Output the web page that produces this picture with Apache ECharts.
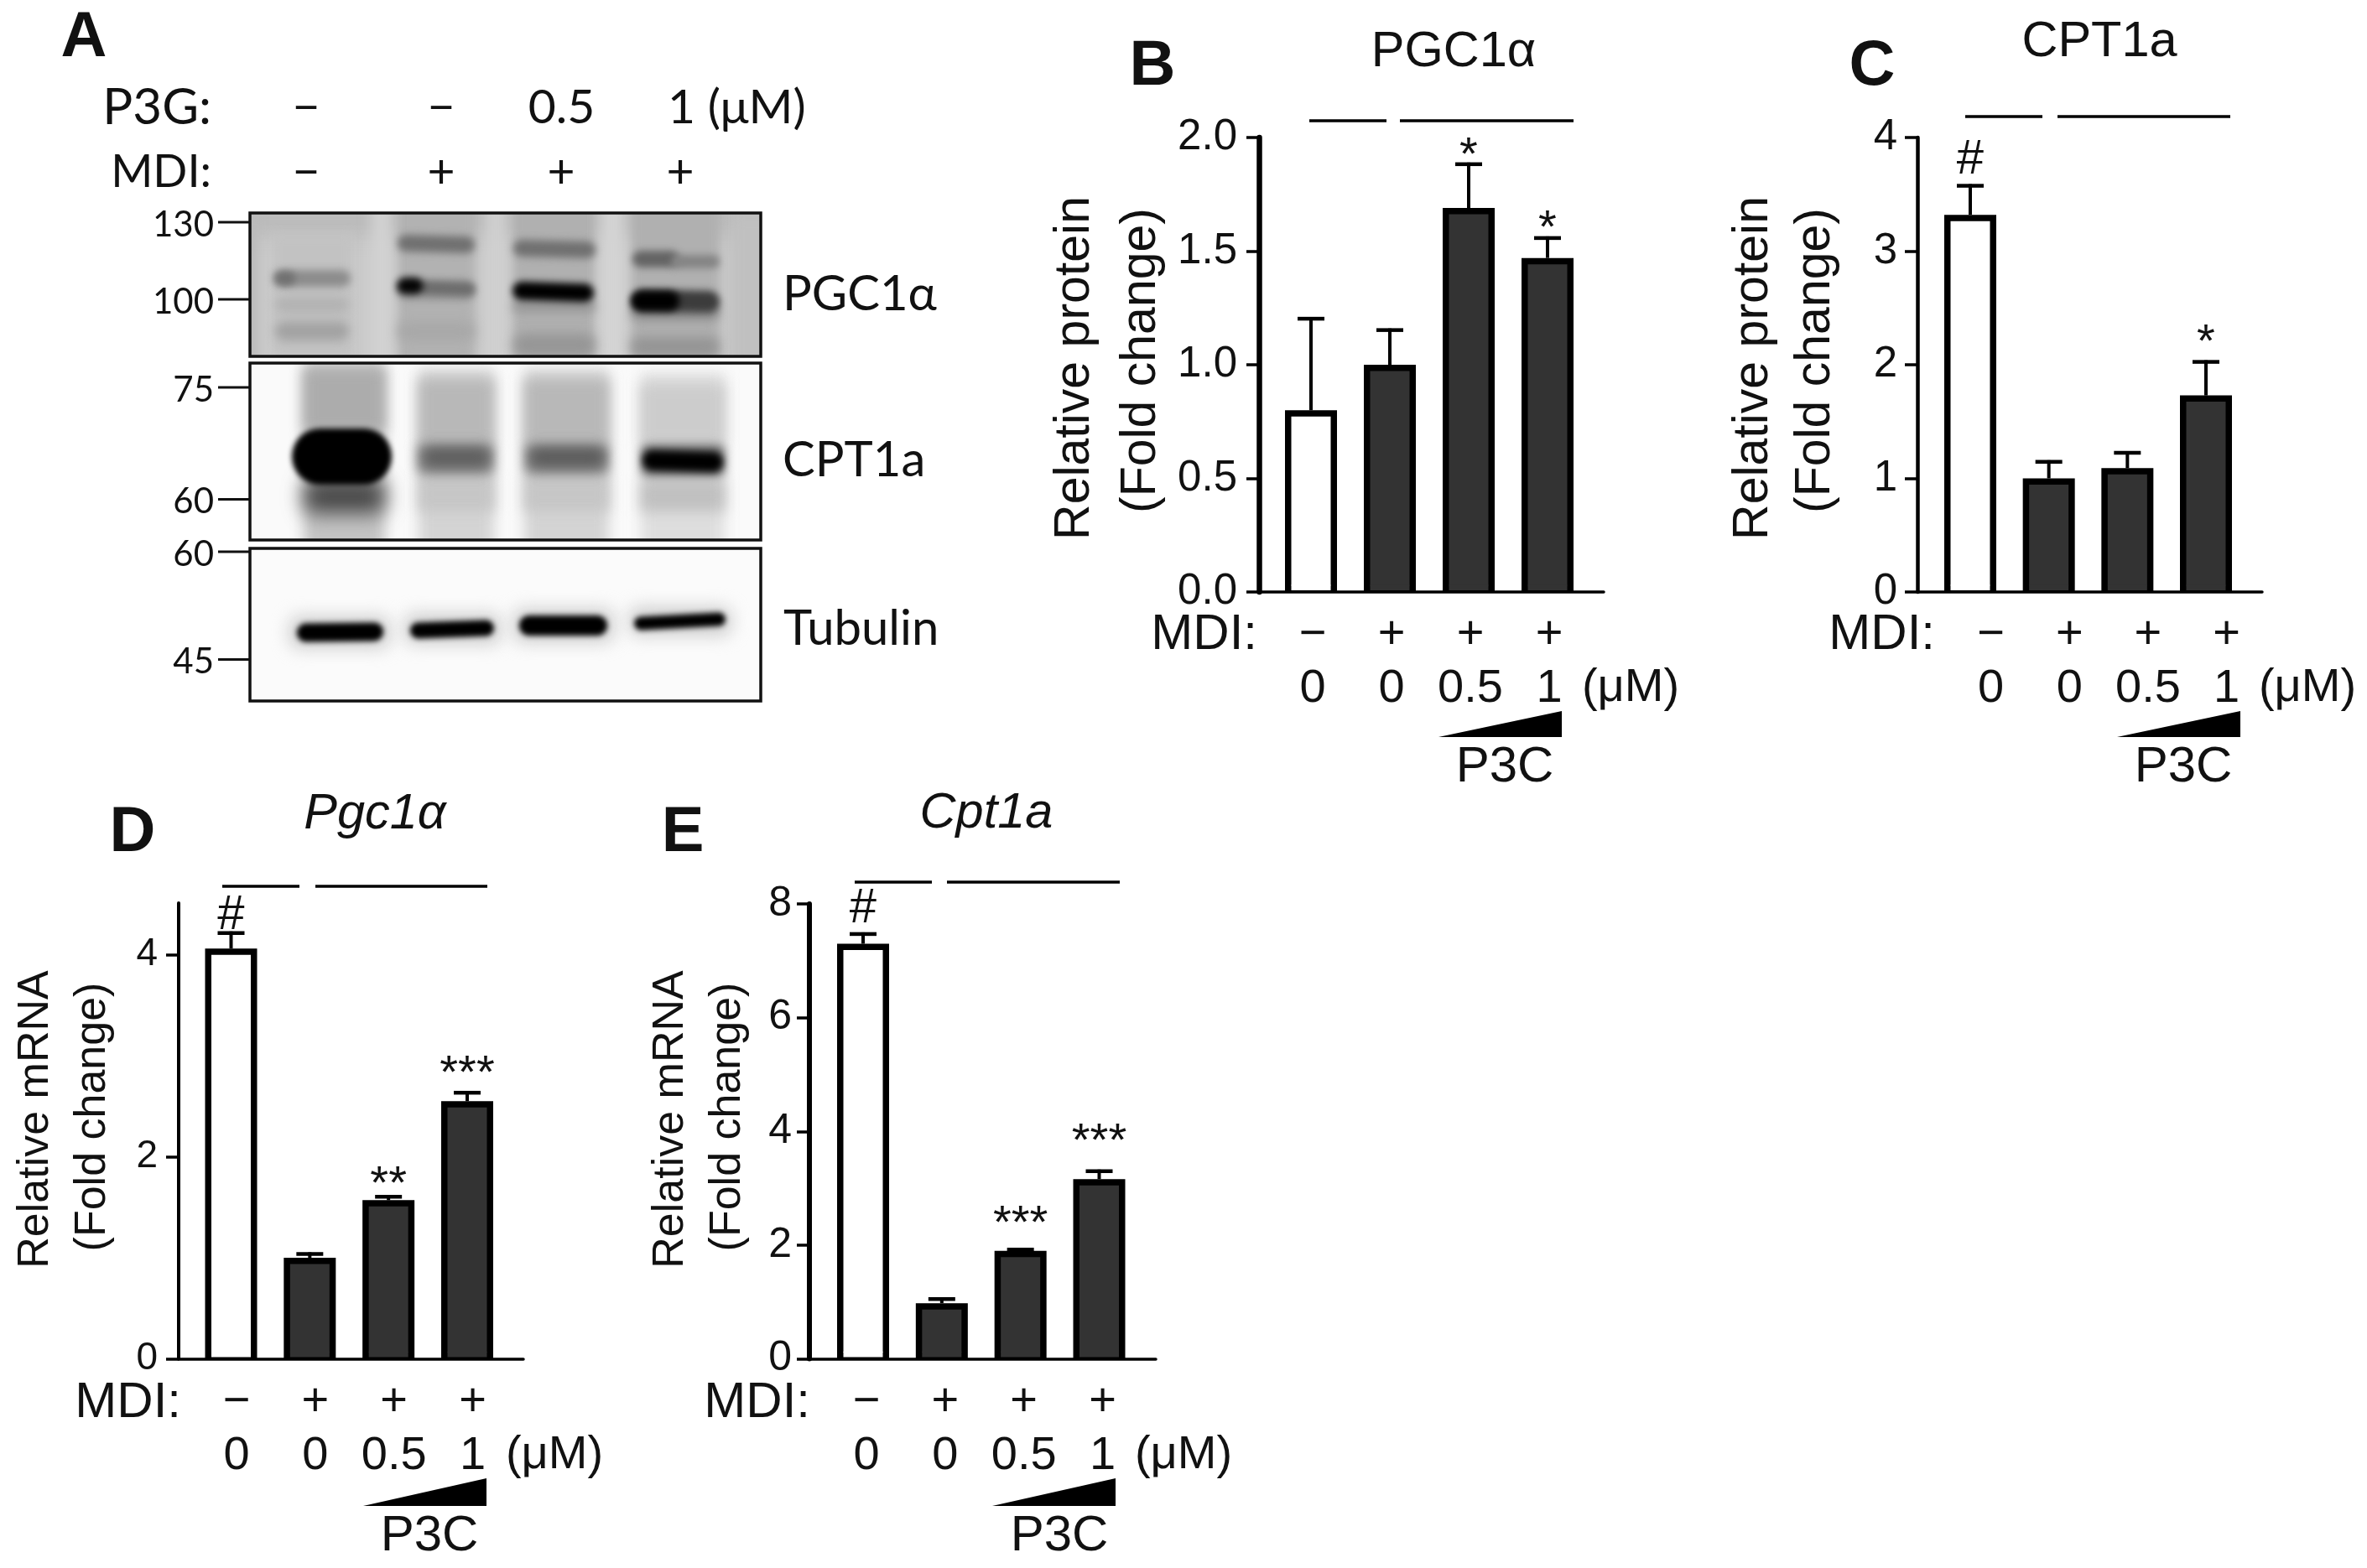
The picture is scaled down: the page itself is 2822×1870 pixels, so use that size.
<!DOCTYPE html>
<html><head><meta charset="utf-8">
<style>html,body{margin:0;padding:0;background:#fff}#c{width:2822px;height:1870px}</style>
<script src="https://cdn.jsdelivr.net/npm/echarts@6/dist/echarts.min.js"></script>
</head><body><div id="c"></div>
<script>
// ---------- data ----------
const mdiLabels = ['−', '+', '+', '+'];
const doseLabels = ['0', '0', '0.5', '1'];

const valuesB = [0.80, 1.00, 1.69, 1.47];
const errorsB = [0.41, 0.16, 0.20, 0.095];
const sigB = ['', '', '*', '*'];

const valuesC = [3.32, 1.00, 1.09, 1.73];
const errorsC = [0.27, 0.16, 0.15, 0.31];
const sigC = ['#', '', '', '*'];

const valuesD = [4.06, 1.00, 1.57, 2.55];
const errorsD = [0.17, 0.055, 0.05, 0.10];
const sigD = ['#', '', '**', '***'];

const valuesE = [7.30, 0.98, 1.90, 3.16];
const errorsE = [0.20, 0.10, 0.05, 0.17];
const sigE = ['#', '', '***', '***'];

const ticksB = [0, 0.5, 1.0, 1.5, 2.0];
const ticksC = [0, 1, 2, 3, 4];
const ticksD = [0, 2, 4];
const ticksE = [0, 2, 4, 6, 8];

// ---------- panel layout ----------
const FONT = '"Liberation Sans", Arial, sans-serif';
const panels = [
 {letter:'B', lx:1374, ly:77, title:'PGC1α', italic:false, tx:1733, ty:60,
  values:valuesB, errors:errorsB, sig:sigB, ticks:ticksB, max:2, dec:1,
  left:1501, right:1912, top:164, bottom:706, c1:1563, c4:1845, labelShift:2,
  axisW:6.5, tickSize:51, tickMargin:11, sigGap:[0,0,19,20],
  names:['Relative protein','(Fold change)'], nameX:[1279,1358], nameY:[439,430], nameFont:[59,59],
  mdiR:1499, rowY:754, doseY:818, unitX:1944, triX:[1715,1862], triY:[848,879], p3cX:1794, p3cY:912,
  bracketY:144, brackets:[[1561,1653],[1669,1876]]},
 {letter:'C', lx:2232, ly:77, title:'CPT1a', italic:false, tx:2503, ty:48,
  values:valuesC, errors:errorsC, sig:sigC, ticks:ticksC, max:4, dec:0,
  left:2286, right:2697, top:164, bottom:706, c1:2349, c4:2630, labelShift:24.6,
  axisW:4.5, tickSize:51, tickMargin:9, sigGap:[29,0,0,32],
  names:['Relative protein','(Fold change)'], nameX:[2088,2162], nameY:[439,430], nameFont:[59,59],
  mdiR:2307, rowY:754, doseY:818, unitX:2751, triX:[2524,2671], triY:[848,879], p3cX:2603, p3cY:912,
  bracketY:139, brackets:[[2343,2435],[2453,2659]]},
 {letter:'D', lx:158, ly:991, title:'Pgc1α', italic:true, tx:447, ty:968,
  values:valuesD, errors:errorsD, sig:sigD, ticks:ticksD, max:4.51, dec:0,
  left:213, right:624, top:1077, bottom:1620.6, c1:275.5, c4:557, labelShift:6.5,
  axisW:4, tickSize:46, tickMargin:10, sigGap:[19,0,24,32],
  names:['Relative mRNA','(Fold change)'], nameX:[40,108], nameY:[1335,1332], nameFont:[52,52],
  mdiR:216, rowY:1670, doseY:1733, unitX:661, triX:[433,580], triY:[1763,1796], p3cX:512, p3cY:1829,
  bracketY:1057, brackets:[[265,357],[376,581]]},
 {letter:'E', lx:814, ly:991, title:'Cpt1a', italic:true, tx:1176, ty:967,
  values:valuesE, errors:errorsE, sig:sigE, ticks:ticksE, max:8, dec:0,
  left:965, right:1378, top:1078, bottom:1620.6, c1:1029, c4:1310.5, labelShift:4,
  axisW:6, tickSize:50, tickMargin:6, sigGap:[28,0,40,44],
  names:['Relative mRNA','(Fold change)'], nameX:[797,865], nameY:[1335,1332], nameFont:[52,52],
  mdiR:966, rowY:1670, doseY:1733, unitX:1411, triX:[1183,1330], triY:[1763,1796], p3cX:1263, p3cY:1829,
  bracketY:1052, brackets:[[1019,1111],[1129,1335]]}
];

// ---------- western blot panel A (decorative image drawn on a canvas) ----------
// each band: x0, y0, x1, y1, grey level, blur, rotation in degrees
function makeBlot(x, y, w, h, bg, bands) {
  const cv = document.createElement('canvas');
  cv.width = w; cv.height = h;
  const ctx = cv.getContext('2d');
  ctx.fillStyle = bg; ctx.fillRect(0, 0, w, h);
  bands.forEach(b => {
    ctx.save();
    ctx.filter = 'blur(' + b[5] + 'px)';
    const g = b[4];
    ctx.fillStyle = 'rgb(' + g + ',' + g + ',' + g + ')';
    const bw = b[2] - b[0], bh = b[3] - b[1];
    ctx.translate(b[0] - x + bw / 2, b[1] - y + bh / 2);
    if (b[6]) ctx.rotate(b[6] * Math.PI / 180);
    ctx.beginPath();
    ctx.roundRect(-bw / 2, -bh / 2, bw, bh, b[7] === undefined ? Math.min(bw, bh) / 2 : b[7]);
    ctx.fill();
    ctx.restore();
  });
  return cv;
}
const blots = [
 {x:298, y:254, w:609, h:171, bg:'#cbcbcb', bands:[
  [280,240,930,280,186,12,0,0],[870,254,930,440,192,8,0,0],[280,254,308,440,186,6,0,0],
  [326,280,420,425,194,6,0,0],
  [473,240,567,440,178,6,0,0],[611,240,710,440,176,6,0,0],[752,240,858,440,176,6,0,0],
  [443,240,467,440,210,8,0,0],[579,240,603,440,208,8,0,0],[716,240,744,440,212,8,0,0],
  [326,322,418,342,140,5],[328,324,352,340,112,4],
  [328,355,416,372,178,6],[328,384,416,406,162,6],
  [474,281,566,301,112,5,1.5],[474,334,566,358,150,5],[500,336,566,352,108,4,2],[473,331,505,351,5,4],
  [474,384,566,406,168,7],
  [612,287,710,307,112,5,1.5],[611,358,710,372,150,6],[611,337,708,359,0,4,2],[612,398,710,425,150,7],
  [754,299,810,319,100,4],[800,304,858,320,132,4],[752,362,858,382,140,6],
  [754,346,858,372,60,4,1],[752,347,810,371,0,4],[752,402,858,425,148,7]]},
 {x:298, y:433, w:609, h:211, bg:'#fafafa', bands:[
  [362,430,459,660,196,8,0,0],[499,440,589,660,212,8,0,0],[625,440,726,660,212,8,0,0],[764,445,864,660,222,8,0,0],
  [362,440,459,515,172,8,0,0],[499,452,589,530,184,8,0,0],[625,452,726,530,184,8,0,0],[764,458,864,530,204,8,0,0],
  [362,572,459,612,70,12,0,12],[499,568,589,610,198,8,0,0],[625,568,726,610,198,8,0,0],[764,572,864,610,192,8,0,0],
  [497,528,589,566,130,7,0,8],[625,528,726,566,130,7,0,8],[764,530,864,568,110,6,0,8],
  [505,535,583,556,95,7],[632,535,720,556,92,7],
  [766,538,862,562,0,4,1.5],[348,511,467,578,0,3]]},
 {x:298, y:654, w:609, h:182, bg:'#fbfbfb', bands:[
  [345,735,465,773,205,10,0,12],[482,732,597,768,205,10,0,12],[612,726,732,766,205,10,0,12],[750,724,872,758,205,10,0,12],
  [354,743,457,765,0,3,-0.8],[489,741,589,760,0,3,-2],[619,734,724,758,0,3,0],[756,733,865,749,0,3,-3]]}
];
const blotTicks = [['130',265],['100',357],['75',462],['60',595.5],['60',658],['45',786.5]];
const blotNames = [['PGC1α',933,348],['CPT1a',933,546],['Tubulin',934,747]];
const headerRows = [
 {y:126, name:'P3G:', nameFont:60, cells:[['−',365],['−',526],['0.5',669.5]]},
 {y:203, name:'MDI:', nameFont:54, cells:[['−',365],['+',526],['+',669],['+',811]]}
];

// ---------- helpers ----------
function txt(text, x, y, font, align, extra) {
  const rotated = extra && extra.rotation;
  return Object.assign({type:'text', x:x + (rotated ? 3 : 0), y:y + (rotated ? 0 : 3), silent:true,
    style:{text:text, font:font, fill:'#111', align:align || 'center', verticalAlign:'middle'}}, extra || {});
}
const graphic = [];
const LATO = 'Lato, "Liberation Sans", sans-serif';
graphic.push(txt('A', 100, 43, 'bold 76px ' + FONT));
headerRows.forEach(r => {
  graphic.push(txt(r.name, 252, r.y, r.nameFont + 'px ' + LATO, 'right'));
  r.cells.forEach(c => graphic.push(txt(c[0], c[1], r.y, '57px ' + LATO)));
});
graphic.push(txt('1 (μM)', 796, 126, '57px ' + LATO, 'left'));
blots.forEach(b => {
  graphic.push({type:'image', x:b.x, y:b.y, silent:true,
    style:{image:makeBlot(b.x, b.y, b.w, b.h, b.bg, b.bands), x:0, y:0, width:b.w, height:b.h}});
  graphic.push({type:'rect', silent:true, shape:{x:b.x, y:b.y, width:b.w, height:b.h},
    style:{fill:'none', stroke:'#111', lineWidth:3.5}});
});
blotTicks.forEach(t => {
  graphic.push({type:'line', silent:true, shape:{x1:260, y1:t[1], x2:298, y2:t[1]}, style:{stroke:'#111', lineWidth:3}});
  graphic.push(txt(t[0], 255, t[1], '42px ' + LATO, 'right'));
});
blotNames.forEach(n => graphic.push(txt(n[0], n[1], n[2], '58px ' + LATO, 'left')));

const BAR_W = 62, BORDER = 7.5;
const grid = [], xAxis = [], yAxis = [], series = [], title = [];
panels.forEach((p, k) => {
  const step = (p.c4 - p.c1) / 3;
  const xMin = 1 - (p.c1 - p.left) / step;
  const xMax = 4 + (p.right - p.c4) / step;
  const shift = p.labelShift / step;
  grid.push({left:p.left, top:p.top, width:p.right - p.left, height:p.bottom - p.top, containLabel:false});
  xAxis.push({gridIndex:k, type:'value', min:xMin, max:xMax, splitLine:{show:false},
    axisLine:{show:true, onZero:false, lineStyle:{color:'#000', width:3.5}},
    axisTick:{show:false},
    axisLabel:{show:true, customValues:[1,2,3,4].map(v => v + shift), margin:20, color:'#111',
      fontFamily:FONT, fontSize:56, lineHeight:64,
      formatter:v => { const i = Math.round(v - shift) - 1; return mdiLabels[i] + '\n' + doseLabels[i]; }}});
  yAxis.push({gridIndex:k, type:'value', min:0, max:p.max, splitLine:{show:false},
    axisLine:{show:true, lineStyle:{color:'#000', width:p.axisW}},
    axisTick:{show:true, length:15, customValues:p.ticks, lineStyle:{color:'#000', width:3.5}},
    axisLabel:{show:true, customValues:p.ticks, margin:p.tickMargin + 15, padding:[6,0,0,0], color:'#111', fontFamily:FONT, fontSize:p.tickSize,
      formatter:v => Number(v).toFixed(p.dec)}});
  series.push({type:'bar', xAxisIndex:k, yAxisIndex:k, barWidth:BAR_W, silent:true, z:3,
    data:p.values.map((v, i) => ({value:[i + 1, v],
      itemStyle:{color:i === 0 ? '#ffffff' : '#333333', borderColor:'#000', borderWidth:BORDER}}))});
  series.push({type:'custom', xAxisIndex:k, yAxisIndex:k, silent:true, z:4, clip:false,
    data:p.values.map((v, i) => [i + 1, v, v + p.errors[i]]),
    encode:{x:0, y:[1, 2]},
    renderItem:(params, api) => {
      const i = params.dataIndex;
      const a = api.coord([api.value(0), api.value(1)]);
      const b = api.coord([api.value(0), api.value(2)]);
      const base = api.coord([api.value(0), 0]);
      const inner = BAR_W - 2 * BORDER;
      const children = [
        // the bars stand open on the baseline: hide the border's bottom edge
        {type:'rect', shape:{x:a[0] - inner / 2, y:base[1] - BORDER - 1, width:inner, height:BORDER - 1},
          style:{fill:i === 0 ? '#ffffff' : '#333333'}},
        {type:'line', shape:{x1:a[0], y1:a[1], x2:b[0], y2:b[1]}, style:{stroke:'#000', lineWidth:4}},
        {type:'line', shape:{x1:b[0] - 16, y1:b[1] + 2, x2:b[0] + 16, y2:b[1] + 2}, style:{stroke:'#000', lineWidth:4.5}}
      ];
      const s = p.sig[i];
      if (s) {
        const star = s[0] === '*';
        children.push({type:'text', x:b[0], y:b[1] - p.sigGap[i] + (star ? 12 : 0),
          style:{text:s, font:(star ? '56px ' : '58px ') + FONT, fill:'#111', align:'center', verticalAlign:'middle'}});
      }
      return {type:'group', children:children};
    }});
  title.push({text:p.title, left:p.tx, top:p.ty + 3, textAlign:'center', textVerticalAlign:'middle', padding:0,
    textStyle:{fontFamily:FONT, fontSize:59.5, fontWeight:'normal', fontStyle:p.italic ? 'italic' : 'normal', color:'#111'}});
  graphic.push(txt(p.letter, p.lx, p.ly, 'bold 76px ' + FONT));
  p.names.forEach((n, i) => graphic.push(txt(n, p.nameX[i], p.nameY[i], p.nameFont[i] + 'px ' + FONT, 'center', {rotation:Math.PI / 2})));
  graphic.push(txt('MDI:', p.mdiR, p.rowY, '60px ' + FONT, 'right'));
  graphic.push(txt('(μM)', p.unitX, p.doseY, '56px ' + FONT));
  graphic.push({type:'polygon', silent:true,
    shape:{points:[[p.triX[0], p.triY[1]], [p.triX[1], p.triY[0]], [p.triX[1], p.triY[1]]]}, style:{fill:'#000'}});
  graphic.push(txt('P3C', p.p3cX, p.p3cY, '60px ' + FONT));
  p.brackets.forEach(b => graphic.push({type:'line', silent:true,
    shape:{x1:b[0], y1:p.bracketY, x2:b[1], y2:p.bracketY}, style:{stroke:'#000', lineWidth:3.5}}));
});

const chart = echarts.init(document.getElementById('c'), null, {renderer:'canvas', width:2822, height:1870});
chart.setOption({animation:false, backgroundColor:'#fff', tooltip:{show:false},
  title:title, grid:grid, xAxis:xAxis, yAxis:yAxis, series:series, graphic:{elements:graphic}});
</script></body></html>
